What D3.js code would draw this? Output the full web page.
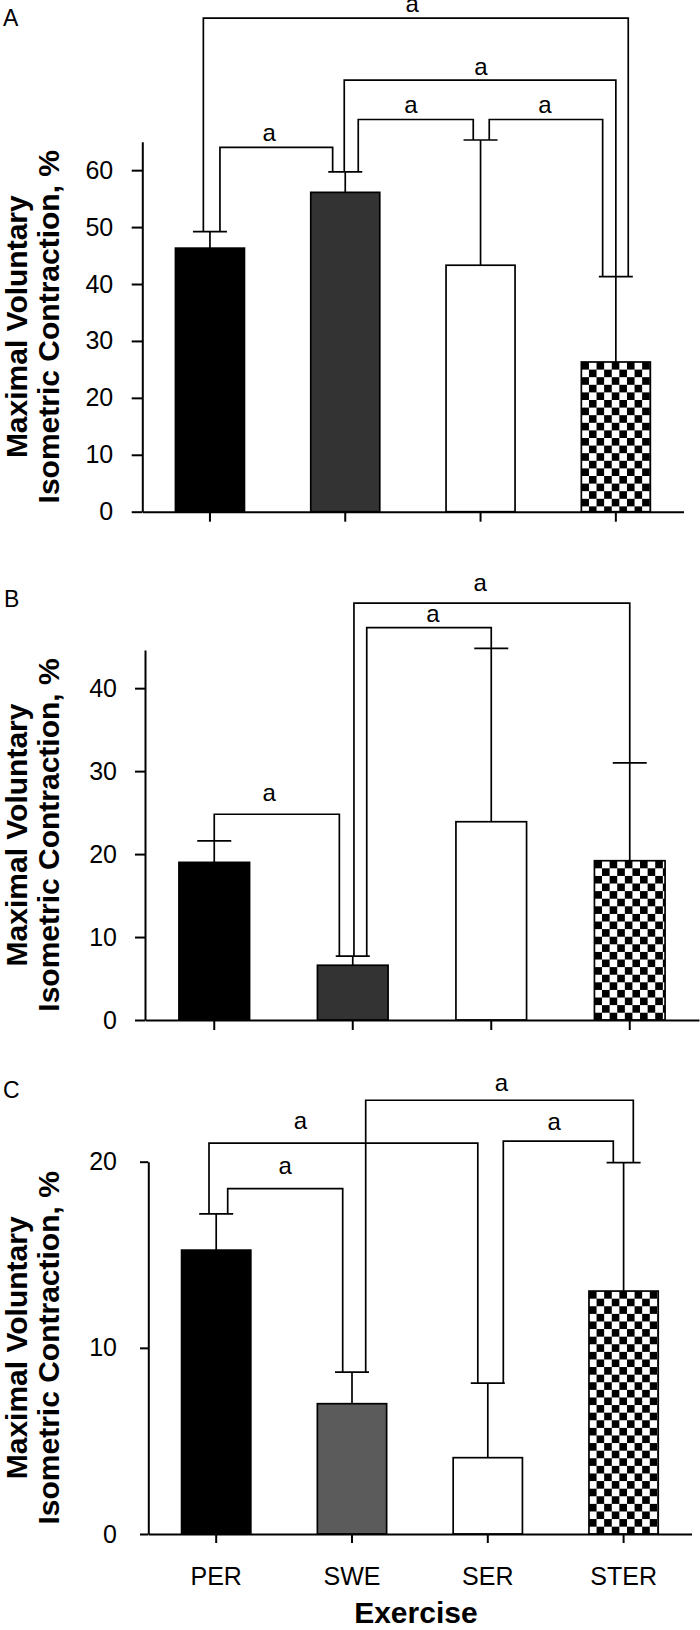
<!DOCTYPE html>
<html><head><meta charset="utf-8">
<script src="https://cdn.jsdelivr.net/npm/d3@7"></script>
<style>
body{margin:0;background:#fff}
svg{display:block}
text{font-family:"Liberation Sans",Arial,Helvetica,sans-serif;fill:#000}
</style>
</head><body>
<svg id="chart" width="700" height="1630"></svg>
<script>
// ---------------- data ----------------
const categories = ["PER", "SWE", "SER", "STER"];
const panelNames = ["A", "B", "C"];
const yTitleLines = ["Maximal Voluntary", "Isometric Contraction, %"];
const xTitle = "Exercise";
const sigLabel = "a";

const meansA = [46.3, 56.1, 43.3, 26.3];
const sdA    = [2.9, 3.6, 22.0, 15.0];
const meansB = [19.0, 6.6, 23.9, 19.2];
const sdB    = [2.6, 1.1, 20.9, 11.8];
const meansC = [15.25, 7.0, 4.1, 13.05];
const sdC    = [1.95, 1.7, 4.0, 6.9];

const ticksA = [0, 10, 20, 30, 40, 50, 60];
const ticksB = [0, 10, 20, 30, 40];
const ticksC = [0, 10, 20];
const yMaxA = 65, yMaxB = 44.6, yMaxC = 20;

// significance brackets: [from, to, height in % units]
const bracketsA = [["PER","STER",86.7],["SWE","STER",75.8],["SWE","SER",68.9],["SER","STER",68.9],["PER","SWE",64.0]];
const bracketsB = [["PER","SWE",24.8],["SWE","SER",47.3],["SWE","STER",50.25]];
const bracketsC = [["PER","SER",21.0],["PER","SWE",18.55],["SWE","STER",23.3],["SER","STER",21.1]];

// ---------------- layout (px) ----------------
// bracket leg offsets from bar centre, label x-offset from bracket middle, label gap above line
const bracketLayoutA = [[-6.6,12.4,-3.5,5.7],[-1,0,1,5.7],[13,-7.3,-4.8,6.7],[8.7,-13.2,-1,6.7],[10,-12.6,-7,6]];
const bracketLayoutB = [[0,-13.4,-7.5,13.6],[14,0,4,6],[1.2,0,-11.7,11.7]];
const bracketLayoutC = [[-7.2,-10,-43,14],[11.5,-9.3,0,15],[13.7,9.7,2,9],[15.5,-10.3,-4,11.4]];

const panels = [
  {name: panelNames[0], means: meansA, sd: sdA, ticks: ticksA, yMax: yMaxA, brackets: bracketsA, blay: bracketLayoutA,
   x0: 142.3, x1: 683.5, yTop: 141.7, yBot: 511.7, tickLen: 10.6, tickPad: 19.5, letter: [3, 25.5],
   fills: ["#000", "#333333", "#fff", "url(#checkA)"], showX: false},
  {name: panelNames[1], means: meansB, sd: sdB, ticks: ticksB, yMax: yMaxB, brackets: bracketsB, blay: bracketLayoutB,
   x0: 145, x1: 699, yTop: 650, yBot: 1020, tickLen: 10, tickPad: 19, letter: [4, 606.7],
   fills: ["#000", "#333333", "#fff", "url(#checkB)"], showX: false},
  {name: panelNames[2], means: meansC, sd: sdC, ticks: ticksC, yMax: yMaxC, brackets: bracketsC, blay: bracketLayoutC,
   x0: 148.3, x1: 691.5, yTop: 1161.7, yBot: 1534, tickLen: 8.3, tickPad: 24, letter: [3, 1098],
   fills: ["#000", "#5b5b5b", "#fff", "url(#checkC)"], showX: true}
];

const svg = d3.select("#chart");
const defs = svg.append("defs");
const capHalf = 17;
const lineW = 1.7;

panels.forEach((p, pi) => {
  const x = d3.scaleBand().domain(categories).range([p.x0, p.x1]).paddingInner(0.49).paddingOuter(0.245);
  const y = d3.scaleLinear().domain([0, p.yMax]).range([p.yBot, p.yTop]);
  const g = svg.append("g");

  // checker pattern aligned with STER bar
  const cell = 7.6;
  const pat = defs.append("pattern").attr("id", "check" + p.name)
    .attr("patternUnits", "userSpaceOnUse").attr("width", cell * 2).attr("height", cell * 2)
    .attr("x", x("STER")).attr("y", y(p.means[3]));
  pat.append("rect").attr("width", cell * 2).attr("height", cell * 2).attr("fill", "#fff");
  pat.append("rect").attr("width", cell).attr("height", cell).attr("fill", "#000");
  pat.append("rect").attr("x", cell).attr("y", cell).attr("width", cell).attr("height", cell).attr("fill", "#000");

  // bars
  g.selectAll("rect.bar").data(categories).join("rect").attr("class", "bar")
    .attr("x", d => x(d)).attr("width", x.bandwidth())
    .attr("y", (d, i) => y(p.means[i])).attr("height", (d, i) => y(0) - y(p.means[i]))
    .attr("fill", (d, i) => p.fills[i]).attr("stroke", "#000").attr("stroke-width", lineW);

  // error bars (upper)
  const cx = d => x(d) + x.bandwidth() / 2;
  const eb = g.append("g").attr("stroke", "#000").attr("stroke-width", lineW).attr("fill", "none");
  categories.forEach((c, i) => {
    const top = y(p.means[i] + p.sd[i]);
    eb.append("line").attr("x1", cx(c)).attr("x2", cx(c)).attr("y1", y(p.means[i])).attr("y2", top);
    eb.append("line").attr("x1", cx(c) - capHalf).attr("x2", cx(c) + capHalf).attr("y1", top).attr("y2", top);
  });

  // brackets
  const br = g.append("g");
  p.brackets.forEach((b, bi) => {
    const [a, c, h] = b;
    const [dA, dC, ldx, gap] = p.blay[bi];
    const ia = categories.indexOf(a), ic = categories.indexOf(c);
    const xa = cx(a) + dA, xc = cx(c) + dC;
    const yh = y(h);
    const ya = y(p.means[ia] + p.sd[ia]), yc = y(p.means[ic] + p.sd[ic]);
    br.append("path").attr("d", `M${xa},${ya}V${yh}H${xc}V${yc}`)
      .attr("fill", "none").attr("stroke", "#000").attr("stroke-width", lineW);
    br.append("text").attr("x", (xa + xc) / 2 + ldx).attr("y", yh - gap)
      .attr("text-anchor", "middle").attr("font-size", 24).text(sigLabel);
  });

  // y axis
  const yAxis = d3.axisLeft(y).tickValues(p.ticks).tickFormat(d3.format("d"))
    .tickSize(p.tickLen).tickSizeOuter(0).tickPadding(p.tickPad - 1);
  const ya = svg.append("g").attr("transform", `translate(${p.x0},0)`).call(yAxis);
  ya.select(".domain").attr("stroke-width", 2);
  ya.selectAll(".tick line").attr("stroke-width", 2);
  ya.selectAll(".tick text").attr("font-size", 25).style("font-family", '"Liberation Sans",Arial,sans-serif');

  // x axis
  const xAxis = d3.axisBottom(x).tickSize(p.showX ? 9 : 10).tickSizeOuter(0).tickPadding(24)
    .tickFormat(p.showX ? (d => d) : () => "");
  const xa = svg.append("g").attr("transform", `translate(0,${p.yBot})`).call(xAxis);
  xa.select(".domain").attr("stroke-width", 2);
  xa.selectAll(".tick line").attr("stroke-width", 2);
  xa.selectAll(".tick text").attr("font-size", 25).style("font-family", '"Liberation Sans",Arial,sans-serif');

  // panel letter
  svg.append("text").attr("x", p.letter[0]).attr("y", p.letter[1]).attr("font-size", 23).text(p.name);

  // y title
  const cy = (p.yTop + p.yBot) / 2;
  [27, 59].forEach((bx, li) => {
    svg.append("text").attr("transform", `translate(${bx},${cy}) rotate(-90)`)
      .attr("text-anchor", "middle").attr("font-size", 30).attr("font-weight", "bold")
      .text(yTitleLines[li]);
  });

  if (p.showX) {
    svg.append("text").attr("x", (p.x0 + p.x1) / 2 - 4).attr("y", 1623)
      .attr("text-anchor", "middle").attr("font-size", 30).attr("font-weight", "bold").text(xTitle);
  }
});
</script>
</body></html>
